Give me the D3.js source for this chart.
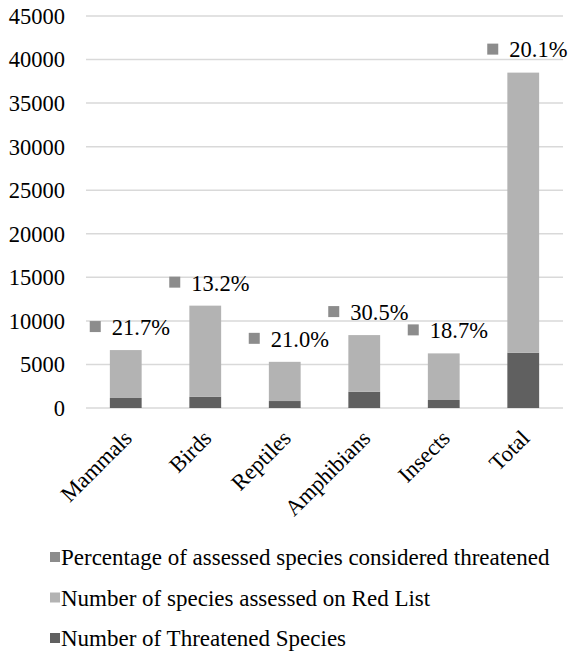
<!DOCTYPE html>
<html>
<head>
<meta charset="utf-8">
<style>
body { margin: 0; background: #fff; }
</style>
</head>
<body>
<svg></svg>
<script src="https://d3js.org/d3.v7.min.js"></script>
<script>

const categories = ['Mammals', 'Birds', 'Reptiles', 'Amphibians', 'Insects', 'Total'];
const threatened = [1150, 1300, 800, 1870, 920, 6350];
const assessed = [5500, 10450, 4500, 6500, 5350, 32150];
const percentLabels = ['21.7%', '13.2%', '21.0%', '30.5%', '18.7%', '20.1%'];
const yTicks = [0, 5000, 10000, 15000, 20000, 25000, 30000, 35000, 40000, 45000];

const legendItems = [
    {label: 'Percentage of assessed species considered threatened', color: '#8c8c8c'},
    {label: 'Number of species assessed on Red List', color: '#b3b3b3'},
    {label: 'Number of Threatened Species', color: '#606060'},
];

const width = 571;
const height = 651;
const plot = {left: 86, right: 563, top: 16, bottom: 408};
const fontFamily = "'Liberation Serif'";

const svg = d3.select('svg')
    .attr('width', width)
    .attr('height', height)
    .style('font-family', fontFamily);

const x = d3.scaleBand()
    .domain(categories)
    .range([plot.left, plot.right])
    .paddingInner(0.6)
    .paddingOuter(0.3);

const y = d3.scaleLinear()
    .domain([0, 45000])
    .range([plot.bottom, plot.top]);

// gridlines
svg.append('g')
    .selectAll('line')
    .data(yTicks)
    .join('line')
    .attr('x1', plot.left)
    .attr('x2', plot.right)
    .attr('y1', d => y(d))
    .attr('y2', d => y(d))
    .attr('stroke', '#d9d9d9')
    .attr('stroke-width', 1.5);

// y axis labels
svg.append('g')
    .selectAll('text')
    .data(yTicks)
    .join('text')
    .attr('x', 65)
    .attr('y', d => y(d))
    .attr('dy', '0.35em')
    .attr('text-anchor', 'end')
    .style('font-family', fontFamily)
    .style('font-size', '22.5px')
    .text(d => d);

const rows = categories.map((c, i) => ({
    cat: c,
    threatened: threatened[i],
    assessed: assessed[i],
    pct: percentLabels[i],
}));

const bars = svg.append('g');

bars.selectAll('.dark')
    .data(rows)
    .join('rect')
    .attr('class', 'dark')
    .attr('x', d => x(d.cat))
    .attr('width', x.bandwidth())
    .attr('y', d => y(d.threatened))
    .attr('height', d => y(0) - y(d.threatened))
    .attr('fill', '#606060');

bars.selectAll('.light')
    .data(rows)
    .join('rect')
    .attr('class', 'light')
    .attr('x', d => x(d.cat))
    .attr('width', x.bandwidth())
    .attr('y', d => y(d.threatened + d.assessed))
    .attr('height', d => y(d.threatened) - y(d.threatened + d.assessed))
    .attr('fill', '#b3b3b3');

// percentage labels with legend key
const labels = svg.append('g')
    .selectAll('g')
    .data(rows)
    .join('g')
    .attr('transform', d => `translate(${x(d.cat) + x.bandwidth() / 2}, ${y(d.threatened + d.assessed) - 23})`);

labels.append('rect')
    .attr('x', -36)
    .attr('y', -6)
    .attr('width', 11)
    .attr('height', 11)
    .attr('fill', '#8c8c8c');

labels.append('text')
    .attr('x', -14)
    .attr('dy', '0.35em')
    .style('font-family', fontFamily)
    .style('font-size', '22.5px')
    .text(d => d.pct);

// category labels
svg.append('g')
    .selectAll('text')
    .data(categories)
    .join('text')
    .attr('transform', d => `translate(${x(d) + x.bandwidth() / 2 + 2}, ${plot.bottom + 26}) rotate(-45)`)
    .attr('text-anchor', 'end')
    .attr('dy', '0.35em')
    .style('font-family', fontFamily)
    .style('font-size', '22.5px')
    .text(d => d);

// legend
const legend = svg.append('g')
    .selectAll('g')
    .data(legendItems)
    .join('g')
    .attr('transform', (d, i) => `translate(50, ${557 + i * 40.5})`);

legend.append('rect')
    .attr('x', 0)
    .attr('y', -5)
    .attr('width', 10)
    .attr('height', 10)
    .attr('fill', d => d.color);

legend.append('text')
    .attr('x', 11)
    .attr('dy', '0.35em')
    .style('font-family', fontFamily)
    .style('font-size', '23px')
    .text(d => d.label);

</script>
</body>
</html>
